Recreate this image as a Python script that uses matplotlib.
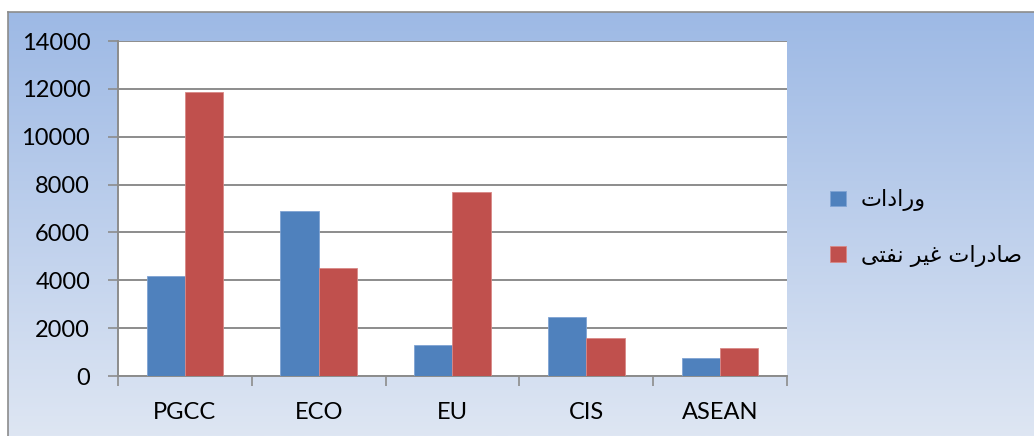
"""
Imports vs non-oil exports by regional bloc — grouped bar chart.
Writes out.png (1034x436).
"""

import numpy as np
import matplotlib
matplotlib.use("Agg")
import matplotlib.pyplot as plt

regions = ["PGCC", "ECO", "EU", "CIS", "ASEAN"]
imports = [4200, 6900, 1300, 2480, 750]
nonoil_exports = [11850, 4500, 7700, 1570, 1150]
y_ticks = [0, 2000, 4000, 6000, 8000, 10000, 12000, 14000]

# Persian labels, written in shaped presentation forms (visual order),
# since matplotlib does no Arabic shaping / bidi itself.
label_imports = "\u062A\u0627\u062F\u0627\u0631\u0648"                 # ورادات
label_exports = ("\uFEF0\uFE98\uFED4\uFEE7 \uFEAE\uFEF4\uFECF "
                 "\u062A\u0627\u0631\u062F\uFE8E\uFEBB")               # صادرات غير نفتى

BLUE = "#4F81BD"
RED = "#C0504D"
GRID = "#8C8C8C"

W, H = 1034, 436
fig = plt.figure(figsize=(W / 100, H / 100), dpi=100)
fig.patch.set_facecolor("white")

# --- gradient chart-area background ------------------------------------- #
bg = fig.add_axes([8 / W, 0, 1 - 8 / W, (H - 12) / H], zorder=-1)
top = np.array([157, 185, 229]) / 255
bot = np.array([222, 230, 243]) / 255
t = np.linspace(0, 1, 256)[:, None]
grad = (top[None, :] * (1 - t) + bot[None, :] * t)[:, None, :]
bg.imshow(grad, aspect="auto", extent=[0, 1, 0, 1])
bg.set_xticks([])
bg.set_yticks([])
for side, s in bg.spines.items():
    s.set_color("#8C8C8C")
    s.set_linewidth(1.2)
    s.set_visible(side in ("top", "left"))

# --- plot area ----------------------------------------------------------- #
ax = fig.add_axes([118 / W, (H - 376) / H, 669 / W, 335 / H])
ax.set_facecolor("white")

x = np.arange(len(regions))
bw = 0.286
ax.bar(x - bw / 2, imports, bw, color=BLUE, edgecolor="#7FA3D3",
       linewidth=0.6, label=label_imports, zorder=3)
ax.bar(x + bw / 2, nonoil_exports, bw, color=RED, edgecolor="#D98886",
       linewidth=0.6, label=label_exports, zorder=3)

ax.set_xlim(-0.5, len(regions) - 0.5)
ax.set_ylim(0, 14000)
ax.set_yticks(y_ticks)
ax.set_yticklabels([str(v) for v in y_ticks], family="Lato", fontsize=17)
ax.grid(axis="y", color=GRID, lw=1.4, zorder=1)
ax.tick_params(axis="y", length=7, width=1.2, color=GRID, pad=13)

ax.set_xticks(x)
ax.set_xticklabels(regions, family="Lato", fontsize=17)
ax.set_xticks(np.arange(len(regions) + 1) - 0.5, minor=True)
ax.tick_params(axis="x", which="major", length=0, pad=19)
ax.tick_params(axis="x", which="minor", length=7, width=1.2, color=GRID)

for side in ("top", "right"):
    ax.spines[side].set_visible(False)
for side in ("left", "bottom"):
    ax.spines[side].set_color(GRID)
    ax.spines[side].set_linewidth(1.4)

ax.legend(loc="center left", bbox_to_anchor=(810 / W, (H - 228) / H),
          bbox_transform=fig.transFigure, frameon=False,
          prop={"family": "DejaVu Sans", "size": 16},
          handlelength=0.7, handleheight=0.7, handletextpad=0.7,
          labelspacing=1.5)

fig.savefig("out.png", dpi=100)
plt.close(fig)
